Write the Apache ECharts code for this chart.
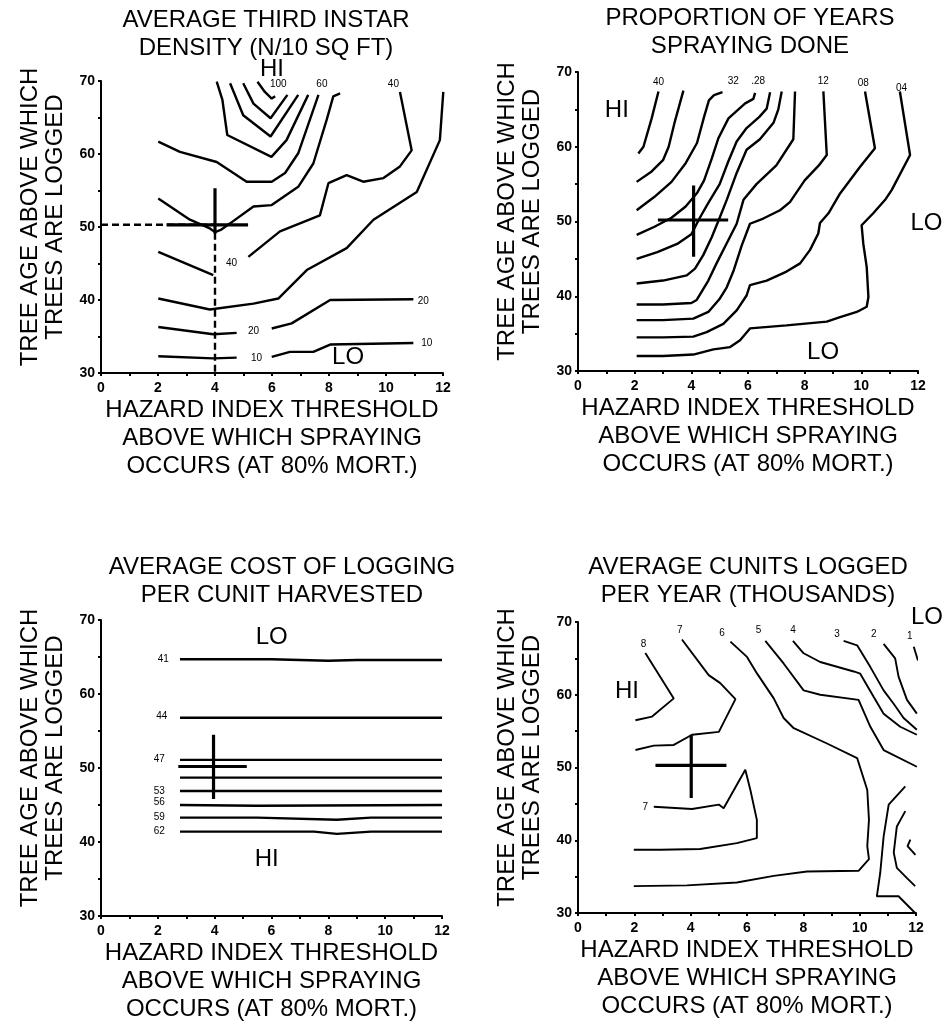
<!DOCTYPE html>
<html>
<head>
<meta charset="utf-8">
<script src="https://cdn.jsdelivr.net/npm/echarts@6.0.0/dist/echarts.min.js"></script>
<style>
html,body{margin:0;padding:0;background:#fff}
#main{width:947px;height:1024px}
</style>
</head>
<body>
<div id="main"></div>
<script>
// --- panel 1: average third instar density (N/10 sq ft)
var densityLines = [
  [[5.49,69.9],[5.75,68.5],[5.99,67.6],[6.11,67.9]],
  [[4.99,69.7],[5.35,66.9],[5.95,64.9],[6.54,68.1]],
  [[4.53,69.7],[4.99,65.3],[5.95,62.4],[6.92,68.1]],
  [[4.06,69.9],[4.26,67.4],[4.43,62.6],[5.98,59.6],[6.51,61.9],[7.27,68.1]],
  [[2.01,61.7],[2.77,60.3],[4.06,58.9],[5.11,56.2],[5.99,56.2],[6.46,57.4],[6.92,60.1],[7.63,68.1]],
  [[2.01,53.9],[3.12,51.0],[3.82,49.8],[4.0,49.3],[4.2,49.6],[4.53,50.5],[5.35,52.8],[5.99,53.0],[6.92,55.5],[7.45,58.7],[7.92,64.7],[8.15,67.9],[8.39,68.3]],
  [[2.01,46.6],[3.94,43.4]],
  [[5.17,45.9],[6.28,49.4],[7.68,51.6],[7.98,56.0],[8.62,57.1],[9.2,56.2],[9.91,56.7],[10.49,58.3],[10.9,60.5],[10.49,68.5]],
  [[2.01,40.2],[3.82,38.7],[5.35,39.5],[6.22,40.2],[7.22,44.1],[8.62,47.1],[9.56,51.0],[11.08,54.8],[11.89,61.9],[12.01,68.5]],
  [[2.01,36.3],[3.94,35.3],[4.76,35.5]],
  [[5.99,36.1],[6.69,36.8],[8.04,40.0],[10.96,40.1]],
  [[2.01,32.3],[3.94,32.0],[4.76,32.1]],
  [[5.99,32.2],[6.63,32.9],[7.45,32.9],[8.04,33.9],[10.96,34.1]]
];
var densityLabels = [
  [6.22,69.5,'100'],[7.75,69.5,'60'],[10.26,69.6,'40'],[4.58,45.0,'40'],
  [5.35,35.7,'20'],[11.31,39.8,'20'],[5.46,32.0,'10'],[11.43,34.1,'10']
];
var densityHiLo = [[6.0,71.6,'HI'],[8.67,32.1,'LO']];
var densityDash = [[[0,50.3],[4,50.3]],[[4,49.2],[4,30]]];
var densityCross = [[[2.3,50.3],[5.16,50.3]],[[4,55.3],[4,49.1]]];

// --- panel 2: proportion of years spraying done
var sprayLines = [
  [[2.13,59.1],[2.31,60.0],[2.6,63.8],[2.84,67.4]],
  [[2.07,55.3],[2.6,56.7],[3.0,58.2],[3.2,60.0],[3.42,63.4],[3.72,67.5]],
  [[2.07,51.5],[2.7,53.3],[3.3,55.3],[3.8,57.8],[4.2,60.5],[4.45,64.0],[4.62,66.2],[4.8,66.9],[5.1,67.3]],
  [[2.07,48.2],[2.7,49.3],[3.3,50.5],[3.8,52.0],[4.2,53.8],[4.45,55.5],[4.72,58.4],[4.95,61.1],[5.31,63.8],[5.9,65.8],[6.19,66.4],[6.25,67.2]],
  [[2.07,45.0],[2.8,45.9],[3.5,47.0],[4.0,48.3],[4.3,50.5],[4.6,52.5],[5.0,55.0],[5.3,58.0],[5.6,60.7],[5.95,62.5],[6.4,64.0],[6.66,65.1],[6.78,67.3]],
  [[2.07,41.7],[3.0,42.1],[3.84,42.8],[4.13,43.7],[4.42,45.5],[4.72,47.9],[5.01,50.6],[5.25,52.9],[5.6,56.5],[5.95,59.6],[6.42,61.0],[6.9,63.2],[7.07,65.0],[7.19,67.4]],
  [[2.07,38.9],[3.0,38.9],[4.0,39.1],[4.19,39.5],[4.6,42.1],[4.89,44.4],[5.25,47.1],[5.6,49.7],[5.84,52.9],[6.3,55.0],[7.0,57.5],[7.6,61.0],[7.66,67.4]],
  [[2.07,36.8],[3.0,36.8],[4.07,37.0],[4.6,37.9],[5.01,39.7],[5.25,41.2],[5.48,43.3],[5.78,46.8],[6.07,49.7],[6.54,50.4],[7.13,51.5],[7.48,52.6],[8.0,55.5],[8.5,57.5],[8.78,58.9],[8.66,67.4]],
  [[2.07,34.5],[3.0,34.5],[4.07,34.6],[4.54,35.2],[5.13,36.3],[5.6,38.1],[5.95,40.1],[6.07,41.5],[6.66,42.1],[7.36,43.3],[7.84,44.4],[8.19,46.2],[8.48,48.4],[8.54,49.8],[8.84,51.1],[9.25,53.75],[9.95,57.3],[10.48,59.8],[10.13,67.4]],
  [[2.07,32.0],[3.0,32.0],[4.07,32.2],[4.78,32.9],[5.37,33.2],[5.72,34.1],[6.07,35.7],[7.36,36.1],[8.78,36.6],[9.25,37.2],[9.84,37.9],[10.19,38.6],[10.25,39.9],[10.19,43.9],[10.07,47.0],[10.01,49.5],[10.42,51.1],[10.84,52.9],[11.07,54.2],[11.72,58.9],[11.36,67.4]]
];
var sprayLabels = [
  [2.84,68.6,'40'],[5.48,68.7,'32'],[6.36,68.7,'.28'],[8.66,68.7,'12'],[10.07,68.5,'08'],[11.42,67.8,'04']
];
var sprayHiLo = [[1.37,64.9,'HI'],[12.3,49.8,'LO'],[8.65,32.5,'LO']];
var sprayCross = [[[2.82,50.2],[5.3,50.2]],[[4.08,54.8],[4.08,45.3]]];

// --- panel 3: average cost of logging per cunit harvested
var costLines = [
  [[2.78,64.7],[6,64.7],[8,64.5],[9,64.6],[12,64.6]],
  [[2.78,56.8],[12,56.8]],
  [[2.78,51.1],[12,51.1]],
  [[2.78,48.7],[12,48.7]],
  [[2.78,46.9],[12,46.9]],
  [[2.78,45.0],[5.5,44.9],[12,45.0]],
  [[2.78,43.3],[5.5,43.3],[8.3,43.0],[9.5,43.3],[12,43.3]],
  [[2.78,41.4],[7.5,41.4],[8.3,41.1],[9.5,41.4],[12,41.4]]
];
var costLabels = [
  [2.19,64.7,'41'],[2.14,57.0,'44'],[2.05,51.2,'47'],[2.05,46.9,'53'],
  [2.05,45.4,'56'],[2.05,43.4,'59'],[2.05,41.5,'62']
];
var costHiLo = [[6.01,67.7,'LO'],[5.83,37.6,'HI']];
var costCross = [[[2.72,50.2],[5.13,50.2]],[[3.96,54.5],[3.96,45.8]]];

// --- panel 4: average cunits logged per year (thousands)
var cunitLines = [
  [[2.39,65.75],[3.40,59.5],[2.63,57.0],[2.04,56.5]],
  [[3.69,67.6],[4.64,62.7],[5.05,61.6],[5.59,59.4],[5.0,54.9],[4.05,54.5],[3.40,53.1],[2.69,53.0],[2.04,52.4]],
  [[2.69,44.6],[4.05,44.3],[5.0,44.9],[5.17,44.4],[5.94,49.7],[6.12,46.9],[6.35,42.8],[6.35,40.3],[5.64,39.6],[4.34,38.8],[2.92,38.7],[1.98,38.7]],
  [[5.41,67.3],[6.0,65.2],[6.36,62.9],[6.95,59.5],[7.3,56.8],[7.66,55.4],[8.84,53.3],[9.91,51.3],[10.27,46.9],[10.33,42.8],[10.27,39.2],[10.33,37.4],[9.96,35.8],[8.13,35.7],[6.95,35.1],[5.64,34.2],[3.87,33.8],[1.98,33.7]],
  [[6.65,67.4],[7.3,64.3],[8.01,60.6],[8.6,60.0],[9.96,59.3],[10.38,55.6],[10.85,52.4],[12.03,50.1]],
  [[7.63,67.4],[8.01,65.7],[8.6,64.5],[9.79,63.2],[10.02,62.9],[10.5,59.7],[10.85,57.4],[11.44,55.6],[12.03,54.5]],
  [[9.43,67.4],[9.91,66.8],[10.38,63.8],[10.85,60.6],[11.2,58.8],[11.56,56.8],[12.03,55.2]],
  [[10.85,67.0],[11.26,65.0],[11.38,62.5],[11.68,59.3],[12.03,57.4]],
  [[11.92,66.6],[12.07,64.7]],
  [[11.62,47.4],[11.03,44.9],[10.85,40.5],[10.73,35.5],[10.61,32.3],[11.38,32.3],[11.97,30.0]],
  [[11.62,44.0],[11.32,41.9],[11.21,38.3],[11.32,36.2],[11.68,34.8],[11.97,33.7]],
  [[11.8,40.1],[11.7,39.2],[11.98,38.0]]
];
var cunitLabels = [
  [2.33,67.0,'8'],[3.61,68.8,'7'],[5.11,68.5,'6'],[6.41,68.8,'5'],[7.63,68.8,'4'],
  [9.2,68.3,'3'],[10.5,68.3,'2'],[11.78,68.0,'1'],[2.39,44.6,'7']
];
var cunitHiLo = [[1.74,60.4,'HI'],[12.39,70.7,'LO']];
var cunitCross = [[[2.75,50.3],[5.27,50.3]],[[4.02,54.5],[4.02,45.8]]];

var titles = [
  'AVERAGE THIRD INSTAR\nDENSITY (N/10 SQ FT)',
  'PROPORTION OF YEARS\nSPRAYING DONE',
  'AVERAGE COST OF LOGGING\nPER CUNIT HARVESTED',
  'AVERAGE CUNITS LOGGED\nPER YEAR (THOUSANDS)'
];
var xName = 'HAZARD INDEX THRESHOLD\nABOVE WHICH SPRAYING\nOCCURS (AT 80% MORT.)';
var yName = 'TREE AGE ABOVE WHICH\nTREES ARE LOGGED';

var chartDom = document.getElementById('main');
var myChart = echarts.init(chartDom);

function path(pts, gi, w, dash) {
  return {
    type: 'line', xAxisIndex: gi, yAxisIndex: gi, data: pts,
    symbol: 'none', showSymbol: false, clip: false, silent: true, animation: false,
    lineStyle: { color: '#000', width: w, type: dash ? [7, 4] : 'solid' }
  };
}
function texts(items, gi, size) {
  return {
    type: 'scatter', xAxisIndex: gi, yAxisIndex: gi, symbolSize: 0, clip: false,
    silent: true, animation: false, itemStyle: { color: '#000', opacity: 1 },
    data: items.map(function (t) { return { value: [t[0], t[1]], name: t[2] }; }),
    label: {
      show: true, position: 'inside', formatter: '{b}', color: '#000', fontSize: size,
      opacity: 1, textBorderWidth: 0, textBorderColor: 'transparent'
    }
  };
}
function xAx(gi) {
  return {
    type: 'value', gridIndex: gi, min: 0, max: 12, interval: 1,
    axisLine: { lineStyle: { color: '#000', width: 2 } },
    axisTick: { length: 3, lineStyle: { color: '#000', width: 2 } },
    axisLabel: {
      formatter: function (v) { return v % 2 === 0 ? v : ''; },
      color: '#000', fontWeight: 'bold', fontSize: 14, margin: 8
    },
    splitLine: { show: false },
    name: xName, nameLocation: 'middle', nameGap: 22,
    nameTextStyle: { fontSize: 24, lineHeight: 28, color: '#000' }
  };
}
function yAx(gi) {
  return {
    type: 'value', gridIndex: gi, min: 30, max: 70, interval: 5,
    axisLine: { lineStyle: { color: '#000', width: 2 } },
    axisTick: { length: 3, lineStyle: { color: '#000', width: 2 } },
    axisLabel: {
      formatter: function (v) { return v % 10 === 0 ? v : ''; },
      color: '#000', fontWeight: 'bold', fontSize: 14, margin: 6
    },
    splitLine: { show: false },
    name: yName, nameLocation: 'middle', nameGap: 33,
    nameTextStyle: { fontSize: 24, lineHeight: 25, color: '#000', padding: [0, 0, 0, 20] }
  };
}

var series = [];
densityLines.forEach(function (p) { series.push(path(p, 0, 2.4)); });
densityDash.forEach(function (p) { series.push(path(p, 0, 2.4, true)); });
densityCross.forEach(function (p) { series.push(path(p, 0, 3.2)); });
series.push(texts(densityLabels, 0, 10));
series.push(texts(densityHiLo, 0, 24));

sprayLines.forEach(function (p) { series.push(path(p, 1, 2.4)); });
sprayCross.forEach(function (p) { series.push(path(p, 1, 3.2)); });
series.push(texts(sprayLabels, 1, 10));
series.push(texts(sprayHiLo, 1, 24));

costLines.forEach(function (p) { series.push(path(p, 2, 2.4)); });
costCross.forEach(function (p) { series.push(path(p, 2, 3.2)); });
series.push(texts(costLabels, 2, 10));
series.push(texts(costHiLo, 2, 24));

cunitLines.forEach(function (p) { series.push(path(p, 3, 1.9)); });
cunitCross.forEach(function (p) { series.push(path(p, 3, 3.2)); });
series.push(texts(cunitLabels, 3, 10));
series.push(texts(cunitHiLo, 3, 24));

var titleBox = { fontSize: 24, lineHeight: 28, fontWeight: 'normal', color: '#000' };
var option = {
  animation: false,
  textStyle: { fontFamily: 'Liberation Sans, Arial, sans-serif' },
  title: [
    { text: titles[0], left: 266, top: 6, textAlign: 'center', padding: 0, textStyle: titleBox },
    { text: titles[1], left: 750, top: 4, textAlign: 'center', padding: 0, textStyle: titleBox },
    { text: titles[2], left: 282, top: 553, textAlign: 'center', padding: 0, textStyle: titleBox },
    { text: titles[3], left: 748, top: 553, textAlign: 'center', padding: 0, textStyle: titleBox }
  ],
  grid: [
    { left: 101, top: 81, width: 342, height: 292 },
    { left: 578, top: 72, width: 340, height: 299 },
    { left: 101, top: 620, width: 341, height: 296 },
    { left: 578, top: 622, width: 338, height: 291 }
  ],
  xAxis: [xAx(0), xAx(1), xAx(2), xAx(3)],
  yAxis: [yAx(0), yAx(1), yAx(2), yAx(3)],
  series: series
};
option && myChart.setOption(option);
</script>
</body>
</html>
